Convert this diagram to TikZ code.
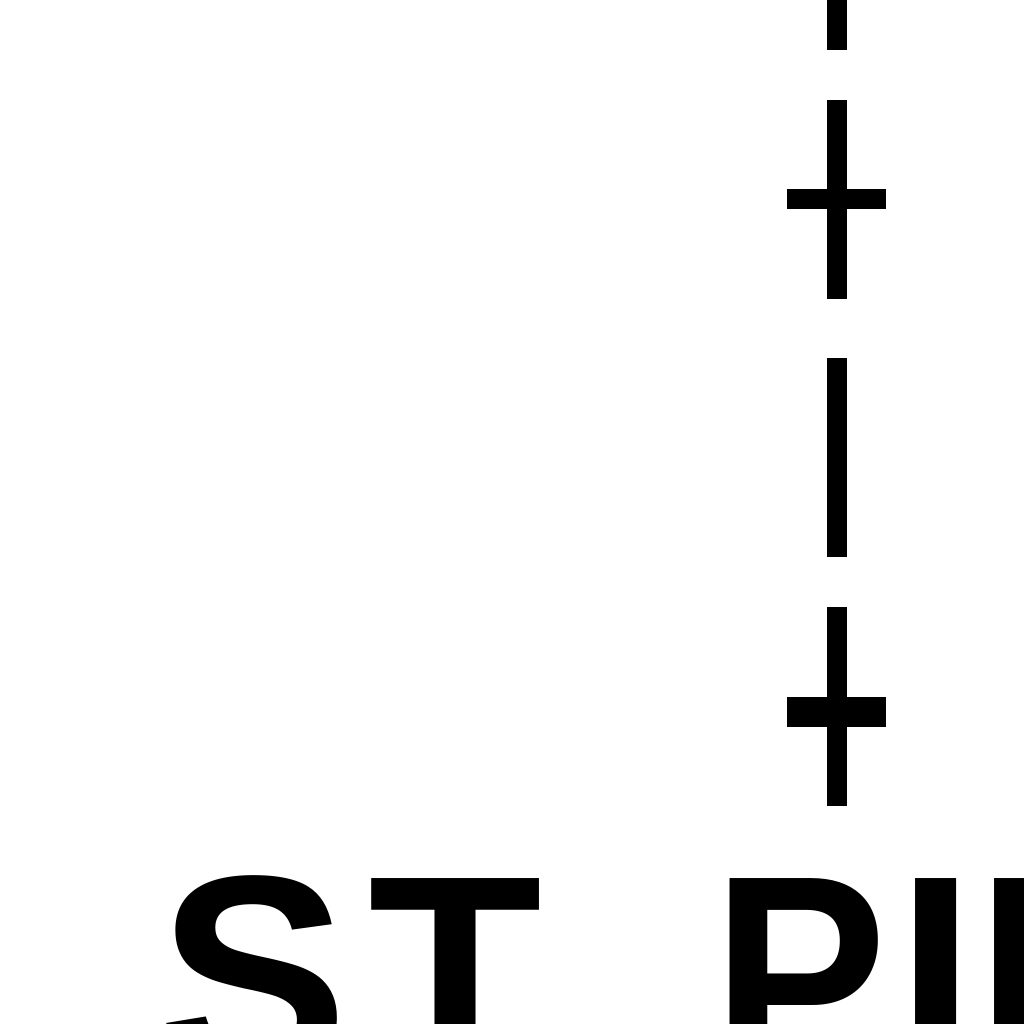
\documentclass[tikz,border=0pt]{standalone}
\usepackage{fontspec}
\setmainfont{Liberation Sans}
\begin{document}
\begin{tikzpicture}[x = 0.01cm, y = -0.01cm,
                    rail/.style = {black, line width = 0.2cm},
                    bar/.style = {black, line width = 0.2cm},
                    letter/.style = {font = \bfseries\fontsize{81}{81}\selectfont, anchor = base west, inner sep = 0pt}]
                \useasboundingbox (0,0) rectangle (1024,1024);
                \clip (0,0) rectangle (1024,1024);
                \draw[rail] (837,-60) -- (837,50);
                \draw[rail] (837,100) -- (837,299);
                \draw[rail] (837,358) -- (837,557);
                \draw[rail] (837,607) -- (837,806);
                \draw[bar] (787,199) -- (886,199);
                \draw[bar, line width = 0.3cm] (787,712) -- (886,712);
                \node[letter] (s) at (158,1074) {S};
                \node[letter] (t) at (368,1074) {T};
                \node[letter, xscale = 0.92] (p) at (712,1074) {P};
                \node[letter] (i1) at (896,1074) {I};
                \node[letter] (i2) at (975,1074) {I};
            \end{tikzpicture}
\end{document}
